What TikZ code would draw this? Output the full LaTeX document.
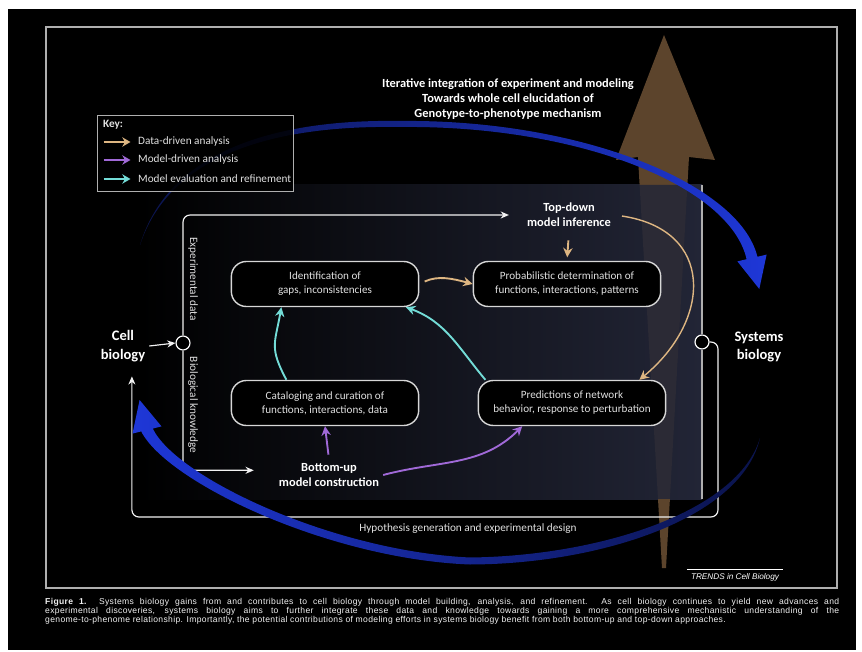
\documentclass[tikz,border=0pt]{standalone}
\usepackage{fontspec}
\setmainfont{Carlito}
\newfontfamily\capfont[LetterSpace=4]{Liberation Sans}
\newfontfamily\trendsfont{Liberation Sans}
\usetikzlibrary{arrows.meta, positioning}

\definecolor{datatan}{RGB}{222,182,130}
\definecolor{modelpurple}{RGB}{160,105,215}
\definecolor{evalcyan}{RGB}{115,220,215}
\definecolor{arcblue}{RGB}{30,55,215}
\definecolor{trunkbrown}{RGB}{92,68,44}
\definecolor{panelnavy}{RGB}{34,37,54}
\definecolor{framegray}{RGB}{175,175,175}
\definecolor{boxgray}{RGB}{215,215,215}
\definecolor{txtgray}{RGB}{225,225,225}

\tikzset{
  stepbox/.style={draw=boxgray, line width=1.2pt, fill=black, rounded corners=0.45cm,
    minimum width=5.62cm, minimum height=1.35cm, align=center, text=txtgray,
    font=\fontsize{9.5}{12}\selectfont},
  headtxt/.style={align=center, text=white, font=\fontsize{10.6}{12.8}\selectfont\bfseries},
  sidetxt/.style={align=center, text=white, font=\fontsize{12.4}{16}\selectfont\bfseries},
  smalltxt/.style={text=txtgray, font=\fontsize{9.6}{10}\selectfont},
  wline/.style={draw=white!90!gray, line width=1pt},
  warrow/.style={wline, -{Stealth[length=7pt, width=6pt]}},
  colarrow/.style={line width=1.6pt, -{Stealth[length=8pt, width=8pt]}},
  keyarrow/.style={line width=2.4pt, -{Stealth[length=7pt, width=8pt]}},
  junction/.style={circle, draw=white, line width=1pt, fill=black, minimum size=0.42cm, inner sep=0pt},
}

\begin{document}
\begin{tikzpicture}[x=0.03cm, y=0.03cm]
    % background and frame
    \fill[white] (0,0) rectangle (862,-652);
    \fill[black] (8,-9) rectangle (856,-650);
    \useasboundingbox (0,0) rectangle (862,-652);
    \draw[framegray, line width=1.1pt] (46,-27) rectangle (837,-588);

    % shaded panel
    \shade[left color=black, middle color=black!75!panelnavy, right color=panelnavy]
        (140,-185) rectangle (702,-499);

    % big brown arrow, only faint where it runs behind the panel
    \fill[trunkbrown] (664,-35) -- (715,-160) -- (689,-157) -- (687.4,-185) -- (639.6,-185)
        -- (638,-157) -- (616,-160) -- cycle;
    \fill[trunkbrown!15!panelnavy] (639.6,-185) -- (687.4,-185) -- (669.9,-499) -- (658,-499) -- cycle;
    \fill[trunkbrown] (658,-499) -- (669.9,-499) -- (666,-568) -- (662,-568) -- cycle;

    % title
    \node[headtxt] (title) at (508,-99) {Iterative integration of experiment and modeling\\Towards whole cell elucidation of\\Genotype-to-phenotype mechanism};

    % boxes
    \node[stepbox] (ident) at (325,-284) {Identification of\\gaps, inconsistencies};
    \node[stepbox] (prob) at (567,-284) {Probabilistic determination of\\functions, interactions, patterns};
    \node[stepbox] (catal) at (325,-403) {Cataloging and curation of\\functions, interactions, data};
    \node[stepbox] (pred) at (572,-403) {Predictions of network\\behavior, response to perturbation};

    % model inference / construction
    \node[headtxt] (topdown) at (569,-215) {Top-down\\model inference};
    \node[headtxt] (bottomup) at (329,-475) {Bottom-up\\model construction};

    % cell biology / systems biology
    \node[sidetxt] (cellbio) at (123,-346) {Cell\\biology};
    \node[sidetxt] (sysbio) at (759,-347) {Systems\\biology};
    \node[junction] (ecirc) at (183,-343) {};
    \node[junction] (scirc) at (702,-342) {};
    \coordinate (hypcorner) at (718,-517);

    % white lines
    \draw[framegray, line width=1pt] (702,-185) -- (scirc.north);
    \draw[framegray, line width=1pt] (scirc.south) -- (702,-499);
    \draw[warrow] (cellbio.east) -- (ecirc.west);
    \draw[warrow, rounded corners=6pt, shorten >=12pt] (ecirc.north) |- (topdown.west);
    \draw[warrow, rounded corners=6pt, shorten >=18pt] (ecirc.south) |- ([yshift=4pt]bottomup.west);
    \draw[warrow, rounded corners=6pt, shorten >=9pt] (scirc.east) -| (hypcorner) -| ([xshift=7.6pt]cellbio.south);

    % side labels
    \node[smalltxt, rotate=-90] (expdata) at (193,-279) {Experimental data};
    \node[smalltxt, rotate=-90] (bioknow) at (193,-405) {Biological knowledge};
    \node[smalltxt] (hypo) at (468,-529) {Hypothesis generation and experimental design};

    % data-driven
    \draw[colarrow, datatan, shorten <=5pt] (ident.east) to[out=25, in=165] (prob.west);
    \draw[colarrow, datatan, shorten <=8pt, shorten >=3pt] (topdown.south) -- (prob.north);
    \draw[colarrow, datatan, line width=1.2pt, shorten <=6pt] (topdown.east) .. controls (715,-230) and (712,-320) .. (pred.19);
    % model evaluation
    \draw[colarrow, evalcyan] (catal.149) to[out=118, in=-100, looseness=1.3] (ident.208);
    \draw[colarrow, evalcyan] (pred.165) to[out=130, in=-20] (ident.-16);
    % model-driven
    \draw[colarrow, modelpurple, shorten <=4pt] (bottomup.north) -- (catal.south);
    \draw[colarrow, modelpurple] (bottomup.east) to[out=15, in=-135] (pred.205);

    % blue arcs
    \shade[left color=arcblue!35!black, middle color=arcblue, right color=arcblue]
        (140,-245) .. controls (169,-149) and (279,-119) .. (400,-121)
        .. controls (581,-119) and (740,-184) .. (757.4,-256.8)
        -- (766.6,-254.6) -- (759.3,-289) -- (737.4,-261.4) -- (746.6,-259.2)
        .. controls (730,-186) and (579,-125) .. (400,-127)
        .. controls (281,-125) and (171,-151) .. (140,-245) -- cycle;
    \shade[left color=arcblue, middle color=arcblue, right color=arcblue!35!black]
        (760,-438) .. controls (742,-518) and (601,-564) .. (470,-564.5)
        .. controls (328,-559) and (167,-482) .. (141.2,-431.4)
        -- (132.5,-433.6) -- (139.6,-400) -- (161.5,-426.4) -- (152.8,-428.6)
        .. controls (176,-477) and (332,-551) .. (470,-557.5)
        .. controls (599,-556) and (738,-512) .. (760,-438) -- cycle;

    % key
    \node[draw=framegray, line width=0.8pt, fill=black, fill opacity=0.85, text opacity=1,
        minimum width=5.88cm, minimum height=2.28cm] (keybox) at (195,-153) {};
    \node[smalltxt, font=\fontsize{9.6}{10}\selectfont\bfseries, anchor=west] (keyhead) at (99,-125) {Key:};
    \foreach \col/\yy/\lab [count=\i] in {datatan/142/Data-driven analysis, modelpurple/160/Model-driven analysis, evalcyan/179/Model evaluation and refinement} {
        \node[smalltxt, anchor=west] (key\i) at (134,-\yy) {\lab};
        \draw[keyarrow, \col, shorten >=3pt] ([xshift=-26pt]key\i.west) -- (key\i.west);
    }

    % source and caption
    \node[text=white, font=\trendsfont\fontsize{7}{8}\selectfont\itshape] (trends) at (735,-577) {TRENDS in Cell Biology};
    \draw[white, line width=0.6pt] (trends.north west) -- (trends.north east);
    \node[anchor=north west, inner sep=0pt, text width=23.82cm, align=justify, text=white!90!gray,
        font=\capfont\fontsize{7.3}{7.9}\selectfont] (caption) at (45,-598)
        {\textbf{Figure 1.}\ \ Systems biology gains from and contributes to cell biology through model building, analysis, and refinement. As cell biology continues to yield new advances and\linebreak experimental discoveries, systems biology aims to further integrate these data and knowledge towards gaining a more comprehensive mechanistic understanding of the\linebreak genome-to-phenome relationship. Importantly, the potential contributions of modeling efforts in systems biology benefit from both bottom-up and top-down approaches.};
\end{tikzpicture}
\end{document}
